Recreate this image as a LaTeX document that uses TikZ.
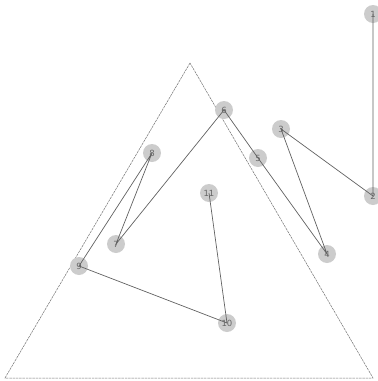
\documentclass[tikz,border=0pt]{standalone}
\usepackage{fontspec}
\setmainfont{DejaVu Sans}
\begin{document}
\begin{tikzpicture}[x=1pt,y=-1pt,
  vert/.style={circle,fill=black!20,minimum size=18pt,inner sep=0pt,text=black!60,font=\fontsize{8.5}{9}\selectfont},
  edge/.style={draw=black!62,line width=0.7pt},
  tri/.style={draw=black!55,line width=0.5pt,dash pattern=on 2.5pt off 0.8pt}]
\useasboundingbox (0,0) rectangle (378,381);
\clip (0,0) rectangle (378,381);
\coordinate (ta) at (190,63);
\coordinate (tl) at (5,378);
\coordinate (tr) at (373,378);
\draw[tri] (ta) -- (tl) -- (tr) -- cycle;
\node[vert] (n1) at (373,14) {1};
\node[vert] (n2) at (373,196) {2};
\node[vert] (n3) at (281,129) {3};
\node[vert] (n4) at (327,254) {4};
\node[vert] (n5) at (258,158) {5};
\node[vert] (n6) at (224,110) {6};
\node[vert] (n7) at (116,244) {7};
\node[vert] (n8) at (152,153) {8};
\node[vert] (n9) at (79,266) {9};
\node[vert] (n10) at (227,323) {10};
\node[vert] (n11) at (209,193) {11};
\draw[edge] (n1.center) -- (n2.center) -- (n3.center) -- (n4.center) -- (n5.center) -- (n6.center) -- (n7.center) -- (n8.center) -- (n9.center) -- (n10.center) -- (n11.center);
\end{tikzpicture}
\end{document}
